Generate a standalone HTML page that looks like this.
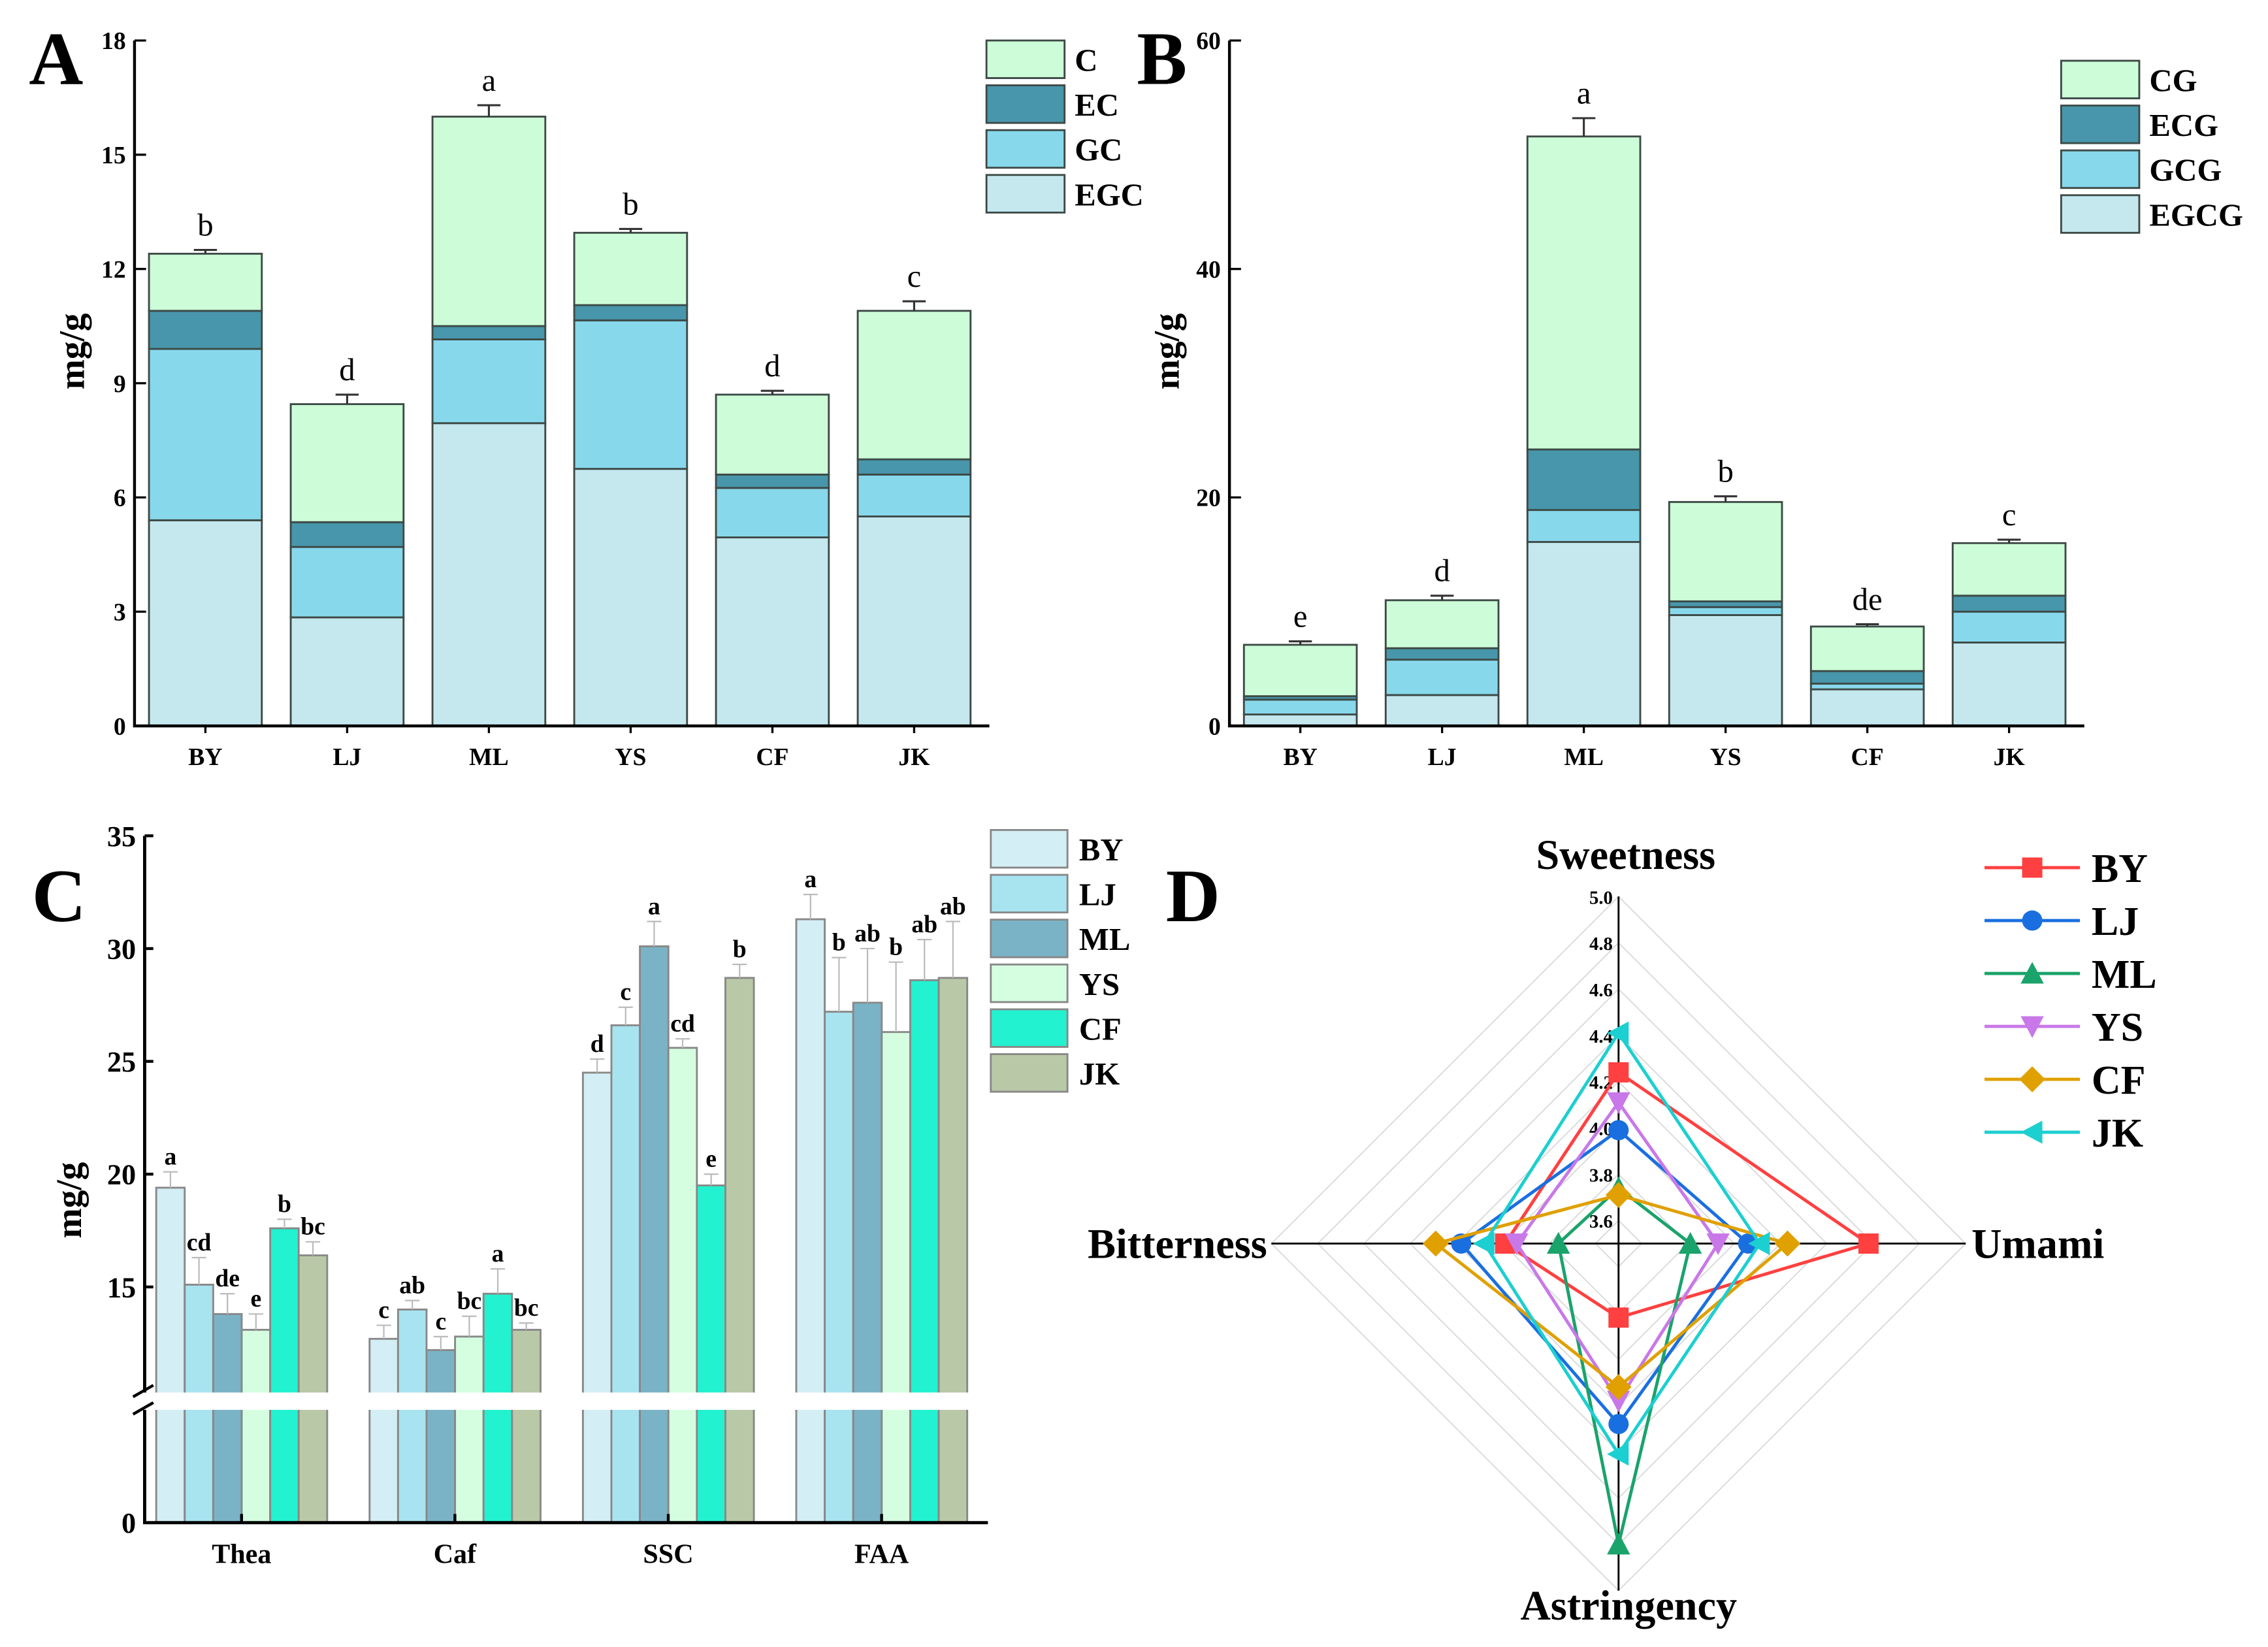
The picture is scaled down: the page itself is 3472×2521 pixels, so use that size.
<!DOCTYPE html>
<html><head><meta charset="utf-8"><style>
html,body{margin:0;padding:0;background:#fff;}
svg{display:block;font-family:"Liberation Serif",serif;}
</style></head><body>
<svg id="fig" xmlns="http://www.w3.org/2000/svg" width="3472" height="2521" viewBox="0 0 1568 1139" preserveAspectRatio="none"></svg>
<script>
// ---------- Panel A data ----------
const catsA = ["BY","LJ","ML","YS","CF","JK"];
const egcA = [5.4,2.85,7.95,6.75,4.95,5.5];
const gcA  = [4.5,1.85,2.2,3.9,1.3,1.1];
const ecA  = [1.0,0.65,0.35,0.4,0.35,0.4];
const cA   = [1.5,3.1,5.5,1.9,2.1,3.9];
const errEgcA=[0.3,0.25,0.45,0.4,0.35,0.35];
const errGcA=[0.4,0.2,0.15,0.2,0.1,0.1];
const errEcA=[0.1,0.1,0.05,0.05,0.05,0.05];
const errCA=[0.1,0.25,0.3,0.1,0.1,0.25];
const lettersA=["b","d","a","b","d","c"];
const ticksA=[0,3,6,9,12,15,18];
// ---------- Panel B data ----------
const catsB = ["BY","LJ","ML","YS","CF","JK"];
const egcgB=[1.0,2.7,16.1,9.7,3.2,7.3];
const gcgB=[1.3,3.1,2.8,0.7,0.5,2.7];
const ecgB=[0.3,1.0,5.3,0.5,1.1,1.4];
const cgB=[4.5,4.2,27.4,8.7,3.9,4.6];
const errEgcgB=[0.3,0.3,1.0,0.5,0.3,0.5];
const errGcgB=[0.1,0.3,0.2,0.2,0.1,0.2];
const errEcgB=[0.1,0.2,0.5,0.1,0.1,0.2];
const errCgB=[0.3,0.4,1.6,0.5,0.2,0.3];
const lettersB=["e","d","a","b","de","c"];
const ticksB=[0,20,40,60];
// ---------- Panel C data ----------
const groupsC=["Thea","Caf","SSC","FAA"];
const seriesC=["BY","LJ","ML","YS","CF","JK"];
const valBY=[19.4,12.7,24.5,31.3];
const valLJ=[15.1,14.0,26.6,27.2];
const valML=[13.8,12.2,30.1,27.6];
const valYS=[13.1,12.8,25.6,26.3];
const valCF=[17.6,14.7,19.5,28.6];
const valJK=[16.4,13.1,28.7,28.7];
const errBY=[0.7,0.6,0.6,1.1];
const errLJ=[1.2,0.4,0.8,2.4];
const errML=[0.9,0.6,1.1,2.4];
const errYS=[0.7,0.9,0.4,3.1];
const errCF=[0.4,1.1,0.5,1.8];
const errJK=[0.6,0.3,0.6,2.5];
const letBY=["a","c","d","a"];
const letLJ=["cd","ab","c","b"];
const letML=["de","c","a","ab"];
const letYS=["e","bc","cd","b"];
const letCF=["b","a","e","ab"];
const letJK=["bc","bc","b","ab"];
const ticksC=[15,20,25,30,35];
// ---------- Panel D data ----------
const axesD=["Sweetness","Umami","Astringency","Bitterness"];
const radarBY=[4.24,4.58,3.82,3.99];
const radarLJ=[3.99,4.06,4.28,4.18];
const radarML=[3.74,3.81,4.80,3.76];
const radarYS=[4.11,3.93,4.18,3.94];
const radarCF=[3.71,4.23,4.12,4.29];
const radarJK=[4.41,4.11,4.41,4.08];
const ticksD=[3.6,3.8,4.0,4.2,4.4,4.6,4.8,5.0];

const NS="http://www.w3.org/2000/svg";
const svg=document.getElementById('fig');
function mk(tag,attrs,parent){const e=document.createElementNS(NS,tag);for(const k in attrs)e.setAttribute(k,attrs[k]);(parent||svg).appendChild(e);return e;}
function txt(s,attrs,parent){const e=mk('text',attrs,parent);e.textContent=s;return e;}

function stacked(cfg){
  const g=mk('g',{});
  
  
  const y=v=>cfg.y0-(v/cfg.max)*(cfg.y0-cfg.yTop);
  const x=i=>cfg.x0+49+i*98;
  cfg.cats.forEach((c,i)=>{
    let base=0;
    cfg.segs.forEach((arr,k)=>{
      const top=base+arr[i];
      const r=mk('rect',{x:x(i)-39,y:y(top),width:78,height:y(base)-y(top),fill:cfg.colors[k],stroke:'#3d4a46','stroke-width':1.3},g);
      
      
      const e=cfg.errs[k][i];
      const eb=mk('path',{d:`M${x(i)},${y(top)}V${y(top+e)}M${x(i)-8},${y(top+e)}H${x(i)+8}`,stroke:'#333','stroke-width':1.4,fill:'none'},g);
      
      
      base=top;
      if(k===cfg.segs.length-1){
        const l=txt(cfg.letters[i],{x:x(i),y:y(top+e)-10,'font-size':22,'text-anchor':'middle'},g);
        
        
      }
    });
    const t=txt(c,{x:x(i),y:cfg.y0+27,'font-size':17,'font-weight':'bold','text-anchor':'middle'},g);
    
    
    mk('line',{x1:x(i),x2:x(i),y1:cfg.y0,y2:cfg.y0+5,stroke:'#000','stroke-width':1.5},g);
  });
  const ax=mk('path',{d:`M${cfg.x0},${cfg.yTop}V${cfg.y0}H${cfg.x0+591}`,stroke:'#000','stroke-width':2,fill:'none'},g);
  
  
  cfg.ticks.forEach(v=>{
    mk('line',{x1:cfg.x0,x2:cfg.x0+8,y1:y(v),y2:y(v),stroke:'#000','stroke-width':1.5},g);
    const t=txt(v,{x:cfg.x0-6,y:y(v)+6,'font-size':17,'font-weight':'bold','text-anchor':'end'},g);
    
    
  });
  const yt=txt('mg/g',{x:0,y:0,'font-size':25,'font-weight':'bold','text-anchor':'middle',transform:`translate(${cfg.x0-35},243) rotate(-90)`},g);
  
  
  for(let k=cfg.segs.length-1,j=0;k>=0;k--,j++){
    const ly=cfg.legY+j*31;
    const r=mk('rect',{x:cfg.legX,y:ly,width:54,height:26,fill:cfg.colors[k],stroke:'#3d4a46','stroke-width':1.3},g);
    
    
    const t=txt(cfg.segNames[k],{x:cfg.legX+61,y:ly+21,'font-size':22,'font-weight':'bold'},g);
    
    
  }
  const L=txt(cfg.letter,{x:cfg.letX,y:58,'font-size':52,'font-weight':'bold'},g);
  
  
}
const colA=['#c5e8ef','#88d8ec','#4896ab','#ccfcd8'];
stacked({name:'panel-a',cats:catsA,segs:[egcA,gcA,ecA,cA],errs:[errEgcA,errGcA,errEcA,errCA],segNames:['EGC','GC','EC','C'],colors:colA,letters:lettersA,ticks:ticksA,max:18,x0:93,y0:502,yTop:28,legX:682,legY:28,letter:'A',letX:20});
stacked({name:'panel-b',cats:catsB,segs:[egcgB,gcgB,ecgB,cgB],errs:[errEgcgB,errGcgB,errEcgB,errCgB],segNames:['EGCG','GCG','ECG','CG'],colors:colA,letters:lettersB,ticks:ticksB,max:60,x0:850,y0:502,yTop:28,legX:1425,legY:42,letter:'B',letX:786});

(function(){
  const g=mk('g',{});
  
  
  const vals=[valBY,valLJ,valML,valYS,valCF,valJK];
  const errs=[errBY,errLJ,errML,errYS,errCF,errJK];
  const lets=[letBY,letLJ,letML,letYS,letCF,letJK];
  const cols=['#d3eef4','#a8e3f0','#7bb3c6','#d5fde0','#22f2d0','#b9c8a6'];
  const x0=100,y0=1053;
  const y=v=>578+(35-v)*15.6;
  const gx=i=>167+i*147.5;
  groupsC.forEach((gName,i)=>{
    vals.forEach((arr,s)=>{
      const bx=gx(i)-59+s*19.7;
      const r=mk('rect',{x:bx,y:y(arr[i]),width:19.7,height:y0-y(arr[i]),fill:cols[s],stroke:'#888','stroke-width':1.3},g);
      
      
      const cx=bx+9.85,e=errs[s][i];
      const eb=mk('path',{d:`M${cx},${y(arr[i])}V${y(arr[i]+e)}M${cx-5},${y(arr[i]+e)}H${cx+5}`,stroke:'#bbb','stroke-width':1,fill:'none'},g);
      
      
      const l=txt(lets[s][i],{x:cx,y:y(arr[i]+e)-5,'font-size':17,'font-weight':'bold','text-anchor':'middle'},g);
      
      
    });
    const t=txt(gName,{x:gx(i),y:y0+28,'font-size':19,'font-weight':'bold','text-anchor':'middle'},g);
    
    
    mk('line',{x1:gx(i),x2:gx(i),y1:y0,y2:y0-6,stroke:'#000','stroke-width':2},g);
  });
  mk('rect',{x:x0+2,y:963,width:590,height:12,fill:'#fff'},g);
  const ax=mk('path',{d:`M${x0},578V963M${x0},975V${y0}H683`,stroke:'#000','stroke-width':2.2,fill:'none'},g);
  
  
  mk('path',{d:`M${x0-8},966L${x0+6},958M${x0-8},978L${x0+6},970`,stroke:'#000','stroke-width':2},g);
  ticksC.forEach(v=>{
    mk('line',{x1:x0,x2:x0+6,y1:y(v),y2:y(v),stroke:'#000','stroke-width':2},g);
    const t=txt(v,{x:x0-6,y:y(v)+7,'font-size':20,'font-weight':'bold','text-anchor':'end'},g);
    
    
  });
  const z=txt('0',{x:x0-6,y:y0+7,'font-size':20,'font-weight':'bold','text-anchor':'end'},g);
  
  
  const yt=txt('mg/g',{x:0,y:0,'font-size':25,'font-weight':'bold','text-anchor':'middle',transform:`translate(56,830) rotate(-90)`},g);
  
  
  seriesC.forEach((s,k)=>{
    const ly=574+k*31;
    const r=mk('rect',{x:685,y:ly,width:53,height:26,fill:cols[k],stroke:'#888','stroke-width':1.3},g);
    
    
    const t=txt(s,{x:746,y:ly+21,'font-size':22,'font-weight':'bold'},g);
    
    
  });
  const L=txt('C',{x:22,y:637,'font-size':52,'font-weight':'bold'},g);
  
  
})();

(function(){
  const g=mk('g',{});
  
  
  const cx=1119,cy=860,rmin=3.5,k=160;
  const r=v=>(v-rmin)*k;
  const dirs=[[0,-1],[1,0],[0,1],[-1,0]];
  const pt=(j,v)=>[cx+dirs[j][0]*r(v),cy+dirs[j][1]*r(v)];
  ticksD.forEach(v=>{
    const p=dirs.map((d,j)=>pt(j,v).join(',')).join(' ');
    const gr=mk('polygon',{points:p,fill:'none',stroke:'#d8d8d8','stroke-width':0.8},g);
    
    
  });
  const ax=mk('path',{d:`M${cx},${cy-r(5)}V${cy+r(5)}M${cx-r(5)},${cy}H${cx+r(5)}`,stroke:'#000','stroke-width':1.3},g);
  
  
  ticksD.forEach(v=>{
    const t=txt(v.toFixed(1),{x:cx-4,y:cy-r(v)+5,'font-size':13,'font-weight':'bold','text-anchor':'end'},g);
    
    
  });
  const labs=[[cx+5,601,'middle'],[1363,870,'start'],[cx+7,1120,'middle'],[876,870,'end']];
  axesD.forEach((a,j)=>{
    const t=txt(a,{x:labs[j][0],y:labs[j][1],'font-size':29,'font-weight':'bold','text-anchor':labs[j][2]},g);
    
    
  });
  const series=[radarBY,radarLJ,radarML,radarYS,radarCF,radarJK];
  const names=['BY','LJ','ML','YS','CF','JK'];
  const cols=['#ff4040','#1a6fe0','#1aa36b','#c878e8','#e0a000','#1ccfd0'];
  function marker(type,x,y,c,parent){
    const s=7;let e;
    if(type===0)e=mk('rect',{x:x-s,y:y-s,width:2*s,height:2*s,fill:c},parent);
    else if(type===1)e=mk('circle',{cx:x,cy:y,r:s,fill:c},parent);
    else if(type===2)e=mk('polygon',{points:`${x},${y-s-1} ${x-s-1},${y+s} ${x+s+1},${y+s}`,fill:c},parent);
    else if(type===3)e=mk('polygon',{points:`${x},${y+s+1} ${x-s-1},${y-s} ${x+s+1},${y-s}`,fill:c},parent);
    else if(type===4)e=mk('polygon',{points:`${x},${y-s-2} ${x+s+2},${y} ${x},${y+s+2} ${x-s-2},${y}`,fill:c},parent);
    else e=mk('polygon',{points:`${x-s-1},${y} ${x+s},${y-s-1} ${x+s},${y+s+1}`,fill:c},parent);
    return e;
  }
  series.forEach((vals,i)=>{
    const pts=vals.map((v,j)=>pt(j,v));
    const pl=mk('polygon',{points:pts.map(p=>p.join(',')).join(' '),fill:'none',stroke:cols[i],'stroke-width':2.2},g);
    
    
    pts.forEach(p=>{
      const m=marker(i,p[0],p[1],cols[i],g);
      
      
    });
    const ly=600+i*36.6;
    const ll=mk('line',{x1:1372,x2:1438,y1:ly,y2:ly,stroke:cols[i],'stroke-width':2.2},g);
    
    
    marker(i,1405,ly,cols[i],g);
    const t=txt(names[i],{x:1446,y:ly+10,'font-size':28,'font-weight':'bold'},g);
    
    
  });
  const L=txt('D',{x:806,y:637,'font-size':52,'font-weight':'bold'},g);
  
  
})();
</script>
</body></html>
